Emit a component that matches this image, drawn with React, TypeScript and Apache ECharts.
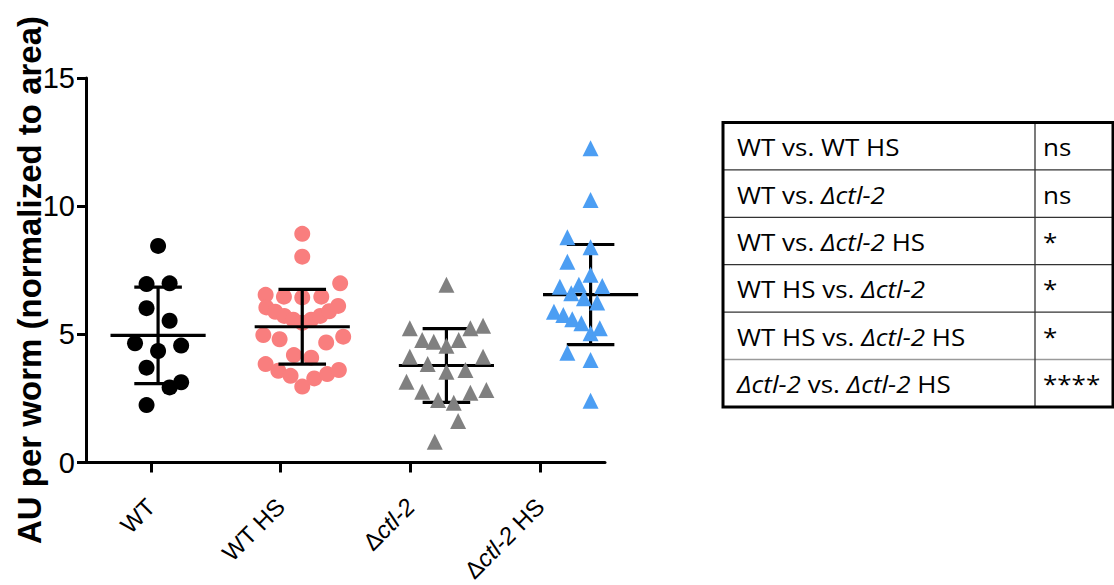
import React, { useEffect, useRef } from "react";
import * as echarts from "echarts";

// ---- Data ----
const categories = ["WT", "WT HS", "Δctl-2", "Δctl-2 HS"];
const yTicks = [0, 5, 10, 15];
const yTitle = "AU per worm (normalized to area)";

// jitter = horizontal offset of each point, in category units
const wtJitter = [0, -0.08, 0.08, -0.08, 0.08, -0.16, 0, 0.16, -0.08, 0.16, 0.08, -0.08];
const wtValues = [8.45, 6.96, 6.99, 6.02, 5.53, 4.65, 4.35, 4.56, 3.7, 3.13, 2.93, 2.24];

const wtHsJitter = [
  0, 0, 0.263, -0.254, -0.127, 0, 0.132,
  -0.249, -0.187, -0.125, -0.062, 0, 0.062, 0.125, 0.187, 0.249,
  -0.27, -0.157, 0.166, 0.284, -0.058, 0.062, -0.254, -0.166, -0.081, 0, 0.083, 0.173, 0.254,
];
const wtHsValues = [
  8.92, 8.03, 6.99, 6.54, 6.47, 6.44, 6.47,
  6.05, 5.88, 5.72, 5.57, 5.45, 5.57, 5.72, 5.9, 6.11,
  4.97, 4.81, 4.68, 4.91, 4.19, 4.09, 3.84, 3.58, 3.38, 2.96, 3.28, 3.45, 3.61,
];

const ctlJitter = [
  0, -0.254, 0.166, 0.254, -0.168, -0.088, 0, 0.085, -0.254, 0.254, -0.13,
  0, 0.132, -0.277, -0.168, 0.166, 0.277, -0.058, 0.051, 0.081, -0.081,
];
const ctlValues = [
  6.93, 5.24, 5.24, 5.33, 4.78, 4.71, 4.55, 4.78, 4.13, 4.13, 3.84,
  3.54, 3.61, 3.15, 2.76, 2.72, 2.83, 2.44, 2.33, 1.62, 0.81,
];

const ctlHsJitter = [
  0, 0, 0.161, -0.161, 0, -0.161, 0.161, 0, -0.213, -0.081, 0.081, 0.213, -0.134, -0.046, 0.046,
  0.127, -0.254, -0.189, -0.127, -0.064, 0, 0.064, 0.127, 0.189, 0.254, 0.161, -0.161, 0, 0,
];
const ctlHsValues = [
  12.26, 10.24, 9.18, 8.79, 8.4, 7.83, 7.51, 7.32, 6.86, 6.93, 6.89, 6.73, 6.6, 6.41, 6.24,
  6.47, 5.88, 5.75, 5.59, 5.43, 5.04, 5.24, 5.46, 5.63, 5.79, 4.81, 4.28, 4.0, 2.41,
];

const tableComparisons = [
  "WT vs. WT HS",
  "WT vs. {i|Δctl-2}",
  "WT vs. {i|Δctl-2} HS",
  "WT HS vs. {i|Δctl-2}",
  "WT HS vs. {i|Δctl-2} HS",
  "{i|Δctl-2} vs. {i|Δctl-2} HS",
];
const tableSignificance = ["ns", "ns", "*", "*", "*", "****"];

const groups = [
  { name: "WT", jitter: wtJitter, values: wtValues, symbol: "circle", size: 16, color: "#000000", barZ: 3 },
  { name: "WT HS", jitter: wtHsJitter, values: wtHsValues, symbol: "circle", size: 16, color: "#F97E7E", barZ: 3 },
  { name: "Δctl-2", jitter: ctlJitter, values: ctlValues, symbol: "triangle", size: 16, color: "#808080", barZ: 1 },
  { name: "Δctl-2 HS", jitter: ctlHsJitter, values: ctlHsValues, symbol: "triangle", size: 16, color: "#4C9EF3", barZ: 1 },
];

function meanSd(vals: number[]) {
  const n = vals.length;
  const m = vals.reduce((a, b) => a + b, 0) / n;
  const v = vals.reduce((a, b) => a + (b - m) * (b - m), 0) / (n - 1);
  return [m, Math.sqrt(v)];
}

const labelFmt: Record<string, string> = {
  "WT": "WT",
  "WT HS": "WT HS",
  "Δctl-2": "{d|Δ}{i|ctl-2}",
  "Δctl-2 HS": "{d|Δ}{i|ctl-2} HS",
};

export default function App() {
  const ref = useRef<HTMLDivElement>(null);
  useEffect(() => {
    if (!ref.current) return;
    const chart = echarts.init(ref.current, null, { renderer: "svg" });

    const axisFont = "Liberation Sans, Arial, sans-serif";
    const tableFont = "Open Sans, sans-serif";
    const xLabelSize = 24;

    const scatterSeries: any[] = groups.map((g, gi) => ({
      type: "scatter",
      name: g.name,
      xAxisIndex: 1,
      yAxisIndex: 0,
      symbol: g.symbol,
      symbolSize: g.size,
      itemStyle: { color: g.color, opacity: 1 },
      z: 2,
      data: g.values.map((v, k) => [gi + g.jitter[k], v]),
    }));

    const barSeries: any[] = groups.map((g, gi) => {
      const [m, sd] = meanSd(g.values);
      return {
        type: "custom",
        xAxisIndex: 1,
        yAxisIndex: 0,
        z: g.barZ,
        data: [[gi, m, sd]],
        renderItem: (params: any, api: any) => {
          const x = api.value(0);
          const mean = api.value(1);
          const s = api.value(2);
          const c = api.coord([x, mean]);
          const t = api.coord([x, mean + s]);
          const b = api.coord([x, mean - s]);
          const half = api.size([0.33, 0])[0];
          const cap = api.size([0.165, 0])[0];
          const st = { stroke: "#000", lineWidth: 3.2 };
          return {
            type: "group",
            children: [
              { type: "line", shape: { x1: c[0] - half, y1: c[1], x2: c[0] + half, y2: c[1] }, style: st },
              { type: "line", shape: { x1: t[0], y1: t[1], x2: b[0], y2: b[1] }, style: st },
              { type: "line", shape: { x1: t[0] - cap, y1: t[1], x2: t[0] + cap, y2: t[1] }, style: st },
              { type: "line", shape: { x1: b[0] - cap, y1: b[1], x2: b[0] + cap, y2: b[1] }, style: st },
            ],
          };
        },
      };
    });

    // table graphic
    const tLeft = 723, tTop = 122.5, tRight = 1113, colX = 1035, rowH = 47.4;
    const rows = tableComparisons.length;
    const tBottom = tTop + rowH * rows;
    const tFont = 23;
    const tScale = 1.13;
    const graphics: any[] = [];
    for (let r = 1; r < rows; r++) {
      const y = tTop + rowH * r;
      graphics.push({
        type: "line",
        shape: { x1: tLeft, y1: y, x2: tRight, y2: y },
        style: { stroke: r === rows - 1 ? "#9a9a9a" : "#333", lineWidth: 1.3 },
      });
    }
    graphics.push({
      type: "line",
      shape: { x1: colX, y1: tTop, x2: colX, y2: tBottom },
      style: { stroke: "#333", lineWidth: 1.3 },
    });
    graphics.push({
      type: "rect",
      shape: { x: tLeft, y: tTop, width: tRight - tLeft, height: tBottom - tTop },
      style: { fill: "none", stroke: "#000", lineWidth: 3 },
    });
    tableComparisons.forEach((txt, r) => {
      const cy = tTop + rowH * (r + 0.5) + 1;
      graphics.push({
        type: "text",
        x: 737,
        y: cy,
        scaleX: tScale,
        style: {
          text: txt,
          fill: "#000",
          fontFamily: tableFont,
          fontSize: tFont,
          verticalAlign: "middle",
          align: "left",
          rich: {
            i: { fontStyle: "italic", fontFamily: tableFont, fontSize: tFont, fill: "#000" },
          },
        },
      });
      graphics.push({
        type: "text",
        x: 1043,
        y: cy,
        scaleX: tScale,
        style: {
          text: tableSignificance[r],
          fill: "#000",
          fontFamily: tableFont,
          fontSize: tFont,
          verticalAlign: "middle",
          align: "left",
        },
      });
    });
    // y-axis title
    graphics.push({
      type: "text",
      x: 29,
      y: 280,
      rotation: Math.PI / 2,
      style: {
        text: yTitle,
        fill: "#000",
        fontFamily: axisFont,
        fontSize: 33,
        fontWeight: "bold",
        align: "center",
        verticalAlign: "middle",
      },
    });

    chart.setOption({
      animation: false,
      backgroundColor: "#fff",
      grid: {
        left: 86,
        width: 519,
        top: 78,
        bottom: 122.5,
        containLabel: false,
        outerBoundsMode: "none",
      },
      xAxis: [
        {
          type: "category",
          data: categories,
          boundaryGap: true,
          axisLine: { show: true, onZero: false, lineStyle: { color: "#000", width: 3 } },
          axisTick: { show: true, alignWithLabel: true, length: 10, lineStyle: { color: "#000", width: 3 } },
          axisLabel: {
            rotate: 45,
            margin: 40,
            color: "#000",
            fontFamily: axisFont,
            fontSize: xLabelSize,
            hideOverlap: false,
            formatter: (v: string) => labelFmt[v] ?? v,
            rich: {
              d: { fontFamily: axisFont, fontSize: xLabelSize, color: "#000" },
              i: { fontFamily: axisFont, fontSize: xLabelSize, fontStyle: "italic", color: "#000" },
            },
          },
          splitLine: { show: false },
        },
        {
          type: "value",
          min: -0.5,
          max: 3.1,
          show: false,
          splitLine: { show: false },
        },
      ],
      yAxis: [
        {
          type: "value",
          min: 0,
          max: 15,
          interval: 5,
          axisLine: { show: true, onZero: false, lineStyle: { color: "#000", width: 3 } },
          axisTick: { show: true, length: 9, lineStyle: { color: "#000", width: 3 } },
          axisLabel: {
            margin: 11,
            color: "#000",
            fontFamily: axisFont,
            fontSize: 29,
            formatter: (v: number) => (yTicks.includes(v) ? String(v) : ""),
          },
          splitLine: { show: false },
        },
      ],
      series: [...barSeries, ...scatterSeries],
      graphic: graphics,
    });

    return () => chart.dispose();
  }, []);

  return (
    <div
      ref={ref}
      style={{ position: "absolute", left: 0, top: 0, width: 1114, height: 585, background: "#fff" }}
    />
  );
}
